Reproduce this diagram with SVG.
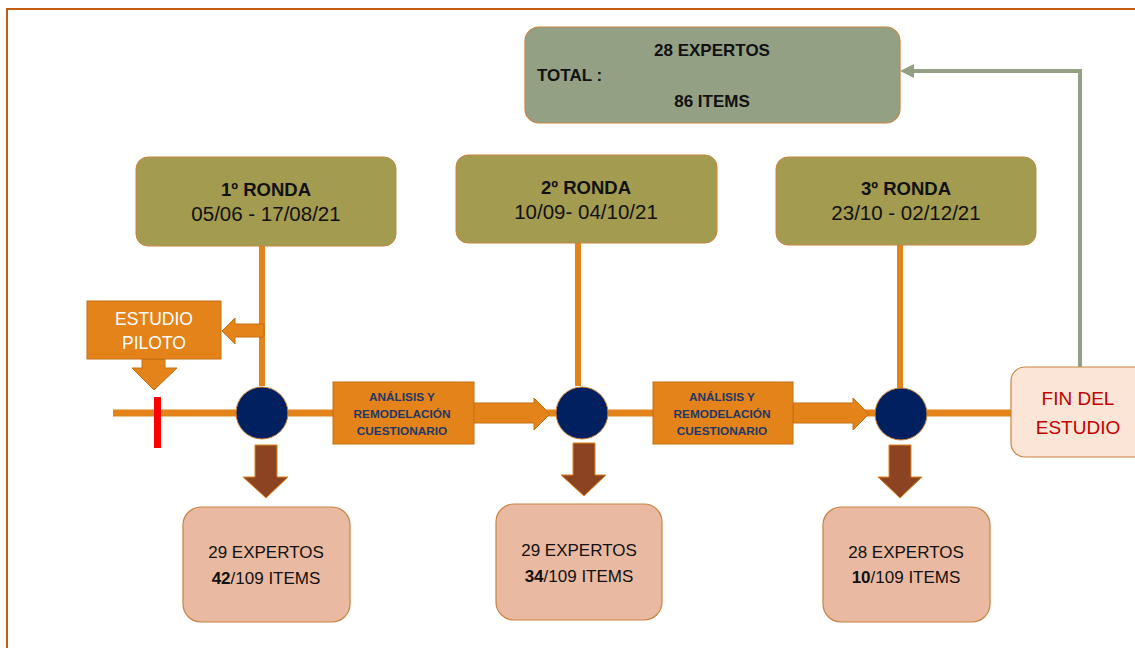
<svg xmlns="http://www.w3.org/2000/svg" width="1135" height="648" viewBox="0 0 1135 648">
<defs>
<style>
text{font-family:"Liberation Sans",Arial,sans-serif;text-anchor:middle}
.b{font-weight:bold}
.ronda{fill:#A39B50;stroke:#C9843F;stroke-width:1}
.res{fill:#EAB9A2;stroke:#C9843F;stroke-width:1.2}
.orng{fill:#E3831A;stroke:#C46E12;stroke-width:1}
.brown{fill:#8B4322;stroke:#E3831A;stroke-width:1}
.node{fill:#002060;stroke:#C9843F;stroke-width:1}
.line{stroke:#E3831A;fill:none}
.nv{fill:#1F3864;font-weight:bold;font-size:11.8px}
.dk{fill:#111}
</style>
</defs>
<rect width="1135" height="648" fill="#fff"/>
<path d="M7 648 V9 H1135" fill="none" stroke="#C55A11" stroke-width="2"/>

<g id="connectors">
<line class="line" x1="113" y1="413" x2="1012" y2="413" stroke-width="7"/>
<line class="line" x1="262" y1="246" x2="262" y2="386" stroke-width="6"/>
<line class="line" x1="578" y1="243" x2="578" y2="386" stroke-width="6"/>
<line class="line" x1="900" y1="245" x2="900" y2="388" stroke-width="6"/>
<path d="M1080 367 V71 H912" fill="none" stroke="#94A084" stroke-width="4"/>
<polygon points="900,71 914,64 914,78" fill="#94A084"/>
<rect x="154" y="397" width="7" height="51" fill="#FF0000"/>
<polygon class="orng" points="264,324 235,324 235,318 222,331 235,344 235,337 264,337"/>
<polygon class="orng" points="142,359 165,359 165,368 177,368 154,390 132,368 142,368"/>
<polygon class="orng" points="473,403 534,403 534,398 550,414 534,430 534,423 473,423"/>
<polygon class="orng" points="793,403 853,403 853,398 869,414 853,430 853,423 793,423"/>
<polygon class="brown" points="255,445 277,445 277,477 288,477 266,498 243,477 255,477"/>
<polygon class="brown" points="573,443 595,443 595,475 606,475 584,496 561,475 573,475"/>
<polygon class="brown" points="889,445 911,445 911,477 922,477 900,498 878,477 889,477"/>
</g>

<g id="total">
<rect x="525" y="27" width="375" height="96" rx="14" fill="#94A084" stroke="#C9843F" stroke-width="1.2"/>
<text x="712" y="56" class="b dk" font-size="17">28 EXPERTOS</text>
<text x="537" y="81" class="b dk" font-size="17" style="text-anchor:start">TOTAL :</text>
<text x="712" y="107" class="b dk" font-size="17">86 ITEMS</text>
</g>

<g id="ronda1">
<rect class="ronda" x="136" y="157" width="260" height="89" rx="12"/>
<text x="266" y="196" class="b dk" font-size="18.5">1º RONDA</text>
<text x="266" y="221" class="dk" font-size="20.5">05/06 - 17/08/21</text>
</g>
<g id="ronda2">
<rect class="ronda" x="456" y="155" width="261" height="88" rx="12"/>
<text x="586" y="194" class="b dk" font-size="18.5">2º RONDA</text>
<text x="586" y="219" class="dk" font-size="20.5">10/09- 04/10/21</text>
</g>
<g id="ronda3">
<rect class="ronda" x="776" y="157" width="260" height="88" rx="12"/>
<text x="906" y="195" class="b dk" font-size="18.5">3º RONDA</text>
<text x="906" y="220" class="dk" font-size="20.5">23/10 - 02/12/21</text>
</g>

<g id="piloto">
<rect class="orng" x="87" y="301" width="134" height="58"/>
<text x="154" y="325" fill="#fff" font-size="17.5">ESTUDIO</text>
<text x="154" y="349" fill="#fff" font-size="17.5">PILOTO</text>
</g>

<g id="analisis1">
<rect class="orng" x="333" y="382" width="141" height="62"/>
<text x="402" y="401" class="nv">ANÁLISIS Y</text>
<text x="402" y="418" class="nv">REMODELACIÓN</text>
<text x="402" y="435" class="nv">CUESTIONARIO</text>
</g>
<g id="analisis2">
<rect class="orng" x="653" y="382" width="140" height="62"/>
<text x="722" y="401" class="nv">ANÁLISIS Y</text>
<text x="722" y="418" class="nv">REMODELACIÓN</text>
<text x="722" y="435" class="nv">CUESTIONARIO</text>
</g>

<g id="nodo1"><circle class="node" cx="262" cy="413" r="26"/></g>
<g id="nodo2"><circle class="node" cx="582" cy="413" r="26"/></g>
<g id="nodo3"><circle class="node" cx="901" cy="414" r="26"/></g>

<g id="fin">
<rect x="1011" y="367" width="140" height="90" rx="14" fill="#FBE5D6" stroke="#C9843F" stroke-width="1.2"/>
<text x="1078" y="405" fill="#C00000" font-size="19">FIN DEL</text>
<text x="1078" y="434" fill="#C00000" font-size="19">ESTUDIO</text>
</g>

<g id="res1">
<rect class="res" x="183" y="507" width="167" height="115" rx="18"/>
<text x="266" y="558" class="dk" font-size="17">29 EXPERTOS</text>
<text x="266" y="584" class="dk" font-size="17"><tspan font-weight="bold">42</tspan>/109 ITEMS</text>
</g>
<g id="res2">
<rect class="res" x="496" y="504" width="166" height="116" rx="18"/>
<text x="579" y="556" class="dk" font-size="17">29 EXPERTOS</text>
<text x="579" y="582" class="dk" font-size="17"><tspan font-weight="bold">34</tspan>/109 ITEMS</text>
</g>
<g id="res3">
<rect class="res" x="823" y="507" width="167" height="115" rx="18"/>
<text x="906" y="558" class="dk" font-size="17">28 EXPERTOS</text>
<text x="906" y="583" class="dk" font-size="17"><tspan font-weight="bold">10</tspan>/109 ITEMS</text>
</g>
</svg>
